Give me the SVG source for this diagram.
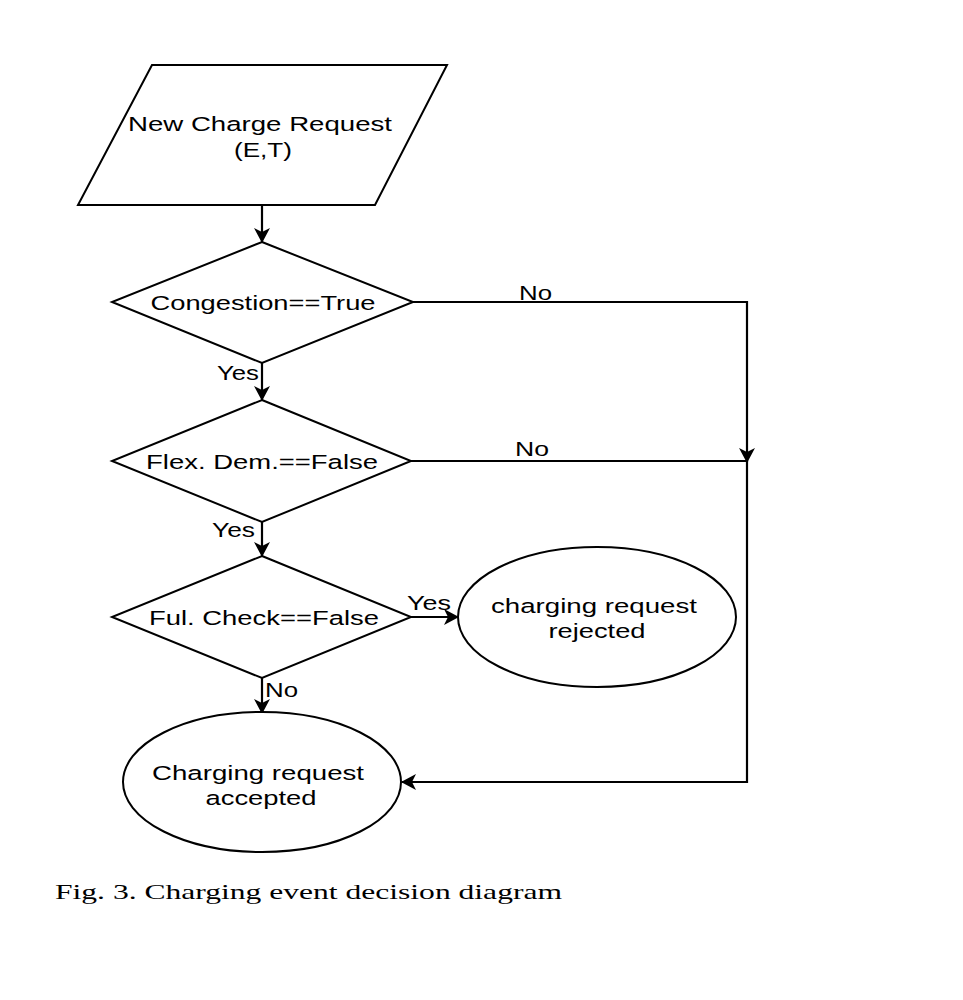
<svg xmlns="http://www.w3.org/2000/svg" width="963" height="1000" viewBox="0 0 963 1000">
<style>
.shape{fill:#ffffff;stroke:#000000;stroke-width:2}
.conn{fill:none;stroke:#000000;stroke-width:2.2}
.t{font-family:"Liberation Sans",Arial,sans-serif;font-size:20.5px;fill:#000000}
.c{text-anchor:middle}
.cap{font-family:"Liberation Serif","Times New Roman",serif;font-size:22px;fill:#000000}
</style>
<defs>
<marker id="arr" viewBox="0 0 15 16" refX="14" refY="8" markerWidth="15" markerHeight="16" orient="auto" markerUnits="userSpaceOnUse">
<path d="M0,0 L15,8 L0,16 L4,8 z" fill="#000000"/>
</marker>
</defs>
<rect width="963" height="1000" fill="#ffffff"/>

<g id="connectors">
<path class="conn" d="M262,205 V242" marker-end="url(#arr)"/>
<path class="conn" d="M262,363 V400" marker-end="url(#arr)"/>
<path class="conn" d="M262,522 V556" marker-end="url(#arr)"/>
<path class="conn" d="M411,617 H458" marker-end="url(#arr)"/>
<path class="conn" d="M262,678 V713" marker-end="url(#arr)"/>
<path class="conn" d="M413,302 H747 V462" marker-end="url(#arr)"/>
<path class="conn" d="M411,461 H747 V782 H402" marker-end="url(#arr)"/>
<text class="t" x="519" y="300" textLength="33" lengthAdjust="spacingAndGlyphs">No</text>
<text class="t" x="217" y="380" textLength="42" lengthAdjust="spacingAndGlyphs">Yes</text>
<text class="t" x="515" y="456" textLength="34" lengthAdjust="spacingAndGlyphs">No</text>
<text class="t" x="212" y="537" textLength="43" lengthAdjust="spacingAndGlyphs">Yes</text>
<text class="t" x="407" y="610" textLength="44" lengthAdjust="spacingAndGlyphs">Yes</text>
<text class="t" x="265" y="697" textLength="33" lengthAdjust="spacingAndGlyphs">No</text>
</g>

<g id="start">
<polygon class="shape" points="152,65 447,65 375,205 78,205"/>
<text class="t c" x="260" y="131" textLength="264" lengthAdjust="spacingAndGlyphs">New Charge Request</text>
<text class="t c" x="263" y="157" textLength="58" lengthAdjust="spacingAndGlyphs">(E,T)</text>
</g>

<g id="congestion">
<polygon class="shape" points="262,242 413,302 262,363 112,302"/>
<text class="t c" x="263" y="310" textLength="225" lengthAdjust="spacingAndGlyphs">Congestion==True</text>
</g>

<g id="flex">
<polygon class="shape" points="262,400 411,461 262,522 112,461"/>
<text class="t c" x="262" y="469" textLength="232" lengthAdjust="spacingAndGlyphs">Flex. Dem.==False</text>
</g>

<g id="fulcheck">
<polygon class="shape" points="262,556 411,617 262,678 112,617"/>
<text class="t c" x="264" y="625" textLength="230" lengthAdjust="spacingAndGlyphs">Ful. Check==False</text>
</g>

<g id="rejected">
<ellipse class="shape" cx="597" cy="617" rx="139" ry="70"/>
<text class="t c" x="594" y="613" textLength="206" lengthAdjust="spacingAndGlyphs">charging request</text>
<text class="t c" x="597" y="638" textLength="97" lengthAdjust="spacingAndGlyphs">rejected</text>
</g>

<g id="accepted">
<ellipse class="shape" cx="262" cy="782" rx="139" ry="70"/>
<text class="t c" x="258" y="780" textLength="212" lengthAdjust="spacingAndGlyphs">Charging request</text>
<text class="t c" x="261" y="805" textLength="111" lengthAdjust="spacingAndGlyphs">accepted</text>
</g>

<g id="caption">
<text class="cap" x="55" y="899" textLength="507" lengthAdjust="spacingAndGlyphs">Fig. 3. Charging event decision diagram</text>
</g>
</svg>
